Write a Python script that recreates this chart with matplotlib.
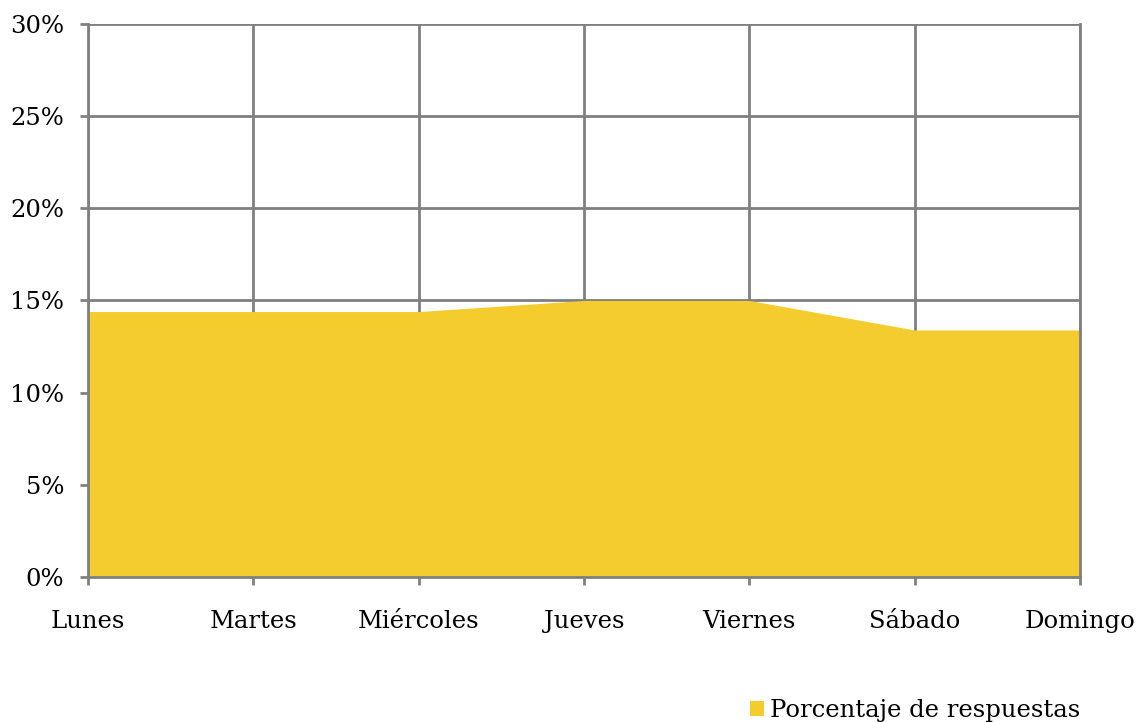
import numpy as np
import matplotlib.pyplot as plt
from matplotlib.patches import Patch
from matplotlib.ticker import FuncFormatter

dias = ["Lunes", "Martes", "Miércoles", "Jueves", "Viernes", "Sábado", "Domingo"]
porcentaje = [14.4, 14.4, 14.4, 15.0, 15.0, 13.4, 13.4]
serie = "Porcentaje de respuestas"

amarillo = "#F4CC2E"
gris = "#808080"

plt.rcParams["font.family"] = ["DejaVu Serif"]

fig = plt.figure(figsize=(11.39, 7.22), dpi=100)
ax = fig.add_axes([0.0773, 0.2008, 0.8709, 0.766])

x = np.arange(len(dias))
ax.fill_between(x, 0, porcentaje, color=amarillo, lw=0, zorder=2)

ax.set_xlim(0, len(dias) - 1)
ax.set_ylim(0, 30)
ax.set_xticks(x)
ax.set_xticklabels(dias)
ax.set_yticks(np.arange(0, 31, 5))
ax.yaxis.set_major_formatter(FuncFormatter(lambda v, p: f"{v:.0f}%"))

ax.grid(True, color=gris, lw=2, zorder=1)
ax.set_axisbelow(True)
ax.spines["top"].set_visible(False)
for s in ["left", "right", "bottom"]:
    ax.spines[s].set_color(gris)
    ax.spines[s].set_linewidth(2)
    ax.spines[s].set_zorder(3)

ax.tick_params(axis="x", length=6, width=2, color=gris, pad=18, labelsize=17.5)
ax.tick_params(axis="y", length=6, width=2, color=gris, pad=11, labelsize=17.5)

fig.legend(handles=[Patch(facecolor=amarillo, edgecolor="none", label=serie)],
           loc="lower right", bbox_to_anchor=(0.968, -0.03), frameon=False,
           fontsize=17.5, handlelength=0.6, handleheight=0.6, handletextpad=0.25)

plt.savefig("out.png")
